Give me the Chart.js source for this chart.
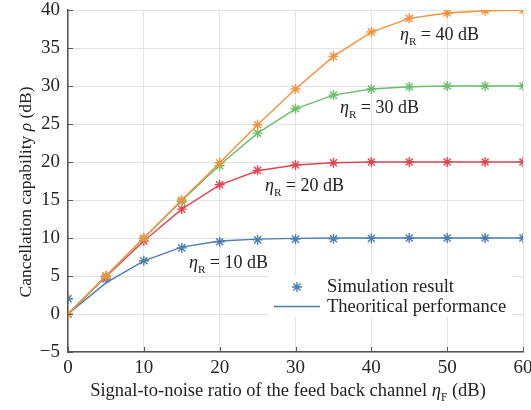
<!DOCTYPE html>
<html>
<head>
<meta charset="utf-8">
<script src="https://cdn.jsdelivr.net/npm/chart.js@4"></script>
<style>
  body { margin: 0; background: #fff; }
  #wrap { width: 531px; height: 410px; position: relative; }
</style>
</head>
<body>
<div id="wrap"><canvas id="cancelChart"></canvas></div>
<script>
// feedback channel SNR (dB)
const snr = [0, 5, 10, 15, 20, 25, 30, 35, 40, 45, 50, 55, 60];

// theoretical curves, one per eta_R
const theory10 = [0, 4.1, 7.0, 8.8, 9.6, 9.85, 9.95, 10, 10, 10, 10, 10, 10];
const theory20 = [0, 4.9, 9.6, 13.8, 17.0, 18.85, 19.6, 19.9, 20, 20, 20, 20, 20];
const theory30 = [0, 5.0, 10.0, 14.9, 19.6, 23.8, 27.0, 28.8, 29.6, 29.9, 30, 30, 30];
const theory40 = [0, 5.0, 10.0, 15.0, 19.9, 24.9, 29.6, 33.9, 37.1, 38.9, 39.6, 39.9, 40];

// simulation results
const sim10 = [2.0, 4.6, 7.0, 8.7, 9.5, 9.75, 9.85, 9.9, 9.95, 10, 10, 10, 10];
const sim20 = [0, 4.9, 9.6, 13.8, 17.0, 18.9, 19.6, 19.9, 20, 20, 20, 20, 20];
const sim30 = [0, 5.0, 9.9, 14.8, 19.5, 23.8, 27.0, 28.8, 29.6, 29.9, 30, 30, 30];
const sim40 = [0, 5.0, 10.0, 15.0, 19.9, 24.9, 29.6, 33.9, 37.1, 38.9, 39.6, 39.9, 40];

const yTicks = [-5, 0, 5, 10, 15, 20, 25, 30, 35, 40];
const xTicks = [0, 10, 20, 30, 40, 50, 60];

const curveLabels = ['10 dB', '20 dB', '30 dB', '40 dB'];
const colors = ['#4a7db0', '#e0464f', '#6cbd6c', '#f5913d'];

const serif = '"Liberation Serif", "DejaVu Serif", serif';

function pts(vals) {
    return snr.map((x, i) => ({ x: x, y: vals[i] }));
}

const theories = [theory10, theory20, theory30, theory40];
const sims = [sim10, sim20, sim30, sim40];
const datasets = [];
for (let i = 0; i < 4; i++) {
    datasets.push({
        label: 'theory ' + curveLabels[i], data: pts(theories[i]),
        borderColor: colors[i], borderWidth: 1.4, pointRadius: 0,
        showLine: true, fill: false, order: 10 - 2 * i
    });
    datasets.push({
        label: 'sim ' + curveLabels[i], data: pts(sims[i]),
        borderColor: colors[i], backgroundColor: colors[i], borderWidth: 1.4,
        pointStyle: 'star', pointRadius: 5, showLine: false, order: 9 - 2 * i
    });
}

// eta with a subscript, then the rest of the text
function etaText(ctx, x, y, sub, rest, size) {
    ctx.font = 'italic ' + size + 'px ' + serif;
    ctx.fillText('\u03B7', x, y);
    x += ctx.measureText('\u03B7').width;
    ctx.font = (size * 0.62) + 'px ' + serif;
    ctx.fillText(sub, x, y + size * 0.28);
    x += ctx.measureText(sub).width;
    ctx.font = size + 'px ' + serif;
    ctx.fillText(rest, x, y);
    return x + ctx.measureText(rest).width;
}

const extras = {
    id: 'extras',
    afterDatasetsDraw(chart) {
        const ctx = chart.ctx;
        const xs = chart.scales.x, ys = chart.scales.y;
        const area = chart.chartArea;
        ctx.save();

        // inward tick marks
        ctx.strokeStyle = '#555';
        ctx.lineWidth = 1;
        ctx.beginPath();
        yTicks.forEach(v => {
            const py = Math.round(ys.getPixelForValue(v)) + 0.5;
            ctx.moveTo(area.left, py); ctx.lineTo(area.left + 5, py);
        });
        xTicks.forEach(v => {
            const px = Math.round(xs.getPixelForValue(v)) + 0.5;
            ctx.moveTo(px, area.bottom); ctx.lineTo(px, area.bottom - 5);
        });
        ctx.stroke();

        // curve labels
        ctx.fillStyle = '#222';
        ctx.textBaseline = 'alphabetic';
        ctx.textAlign = 'left';
        etaText(ctx, 400, 40, 'R', ' = 40 dB', 18);
        etaText(ctx, 340, 113, 'R', ' = 30 dB', 18);
        etaText(ctx, 265, 191, 'R', ' = 20 dB', 18);
        etaText(ctx, 189, 268, 'R', ' = 10 dB', 18);

        // legend box
        ctx.fillStyle = '#fff';
        ctx.fillRect(268, 275, 244, 42);
        ctx.strokeStyle = colors[0];
        ctx.lineWidth = 1.4;
        const sx = 297, sy = 287, r = 5;
        ctx.beginPath();
        for (let k = 0; k < 4; k++) {
            const a = k * Math.PI / 4;
            ctx.moveTo(sx - r * Math.cos(a), sy - r * Math.sin(a));
            ctx.lineTo(sx + r * Math.cos(a), sy + r * Math.sin(a));
        }
        ctx.moveTo(274, 306.5); ctx.lineTo(320, 306.5);
        ctx.stroke();
        ctx.fillStyle = '#222';
        ctx.font = '18.5px ' + serif;
        ctx.fillText('Simulation result', 327, 292);
        ctx.fillText('Theoritical performance', 327, 312);

        // axis titles
        ctx.font = '18.5px ' + serif;
        const part1 = 'Signal-to-noise ratio of the feed back channel ';
        const w1 = ctx.measureText(part1).width;
        ctx.font = 'italic 18.5px ' + serif;
        const wEta = ctx.measureText('\u03B7').width;
        ctx.font = (18.5 * 0.62) + 'px ' + serif;
        const wF = ctx.measureText('F').width;
        ctx.font = '18.5px ' + serif;
        const w2 = ctx.measureText(' (dB)').width;
        let tx = 288 - (w1 + wEta + wF + w2) / 2;
        ctx.fillText(part1, tx, 396);
        etaText(ctx, tx + w1, 396, 'F', ' (dB)', 18.5);

        ctx.translate(31, 192);
        ctx.rotate(-Math.PI / 2);
        const fs = 17.5;
        const a1 = 'Cancellation capability ';
        ctx.font = fs + 'px ' + serif;
        const wa1 = ctx.measureText(a1).width;
        const wa3 = ctx.measureText(' (dB)').width;
        ctx.font = 'italic ' + fs + 'px ' + serif;
        const wrho = ctx.measureText('\u03C1').width;
        let ay = -(wa1 + wrho + wa3) / 2;
        ctx.font = fs + 'px ' + serif;
        ctx.fillText(a1, ay, 0);
        ctx.font = 'italic ' + fs + 'px ' + serif;
        ctx.fillText('\u03C1', ay + wa1, 0);
        ctx.font = fs + 'px ' + serif;
        ctx.fillText(' (dB)', ay + wa1 + wrho, 0);
        ctx.restore();
    }
};

const ctx = document.getElementById('cancelChart').getContext('2d');
new Chart(ctx, {
    type: 'scatter',
    data: { datasets: datasets },
    options: {
        responsive: true,
        maintainAspectRatio: false,
        animation: false,
        devicePixelRatio: 1,
        layout: { padding: { top: 10, right: 8, left: 0, bottom: 0 } },
        plugins: { legend: { display: false }, tooltip: { enabled: false } },
        scales: {
            x: {
                type: 'linear', min: 0, max: 60,
                afterFit: s => { s.height = 58; s.paddingLeft = 0; s.paddingRight = 0; },
                afterBuildTicks: s => { s.ticks = xTicks.map(v => ({ value: v })); },
                ticks: { font: { family: serif, size: 19 }, color: '#262626', padding: 5, maxRotation: 0 },
                grid: { color: '#e3e3e3', lineWidth: 1, drawTicks: false },
                border: { display: true, color: '#555', width: 1.5 }
            },
            y: {
                type: 'linear', min: -5, max: 40,
                afterFit: s => { s.width = 68; s.paddingTop = 0; s.paddingBottom = 0; },
                afterBuildTicks: s => { s.ticks = yTicks.map(v => ({ value: v })); },
                ticks: {
                    font: { family: serif, size: 19 }, color: '#262626', padding: 8,
                    callback: v => v < 0 ? '\u2212' + Math.abs(v) : String(v)
                },
                grid: { color: '#e3e3e3', lineWidth: 1, drawTicks: false },
                border: { display: true, color: '#555', width: 1.5 }
            }
        }
    },
    plugins: [extras]
});
</script>
</body>
</html>
